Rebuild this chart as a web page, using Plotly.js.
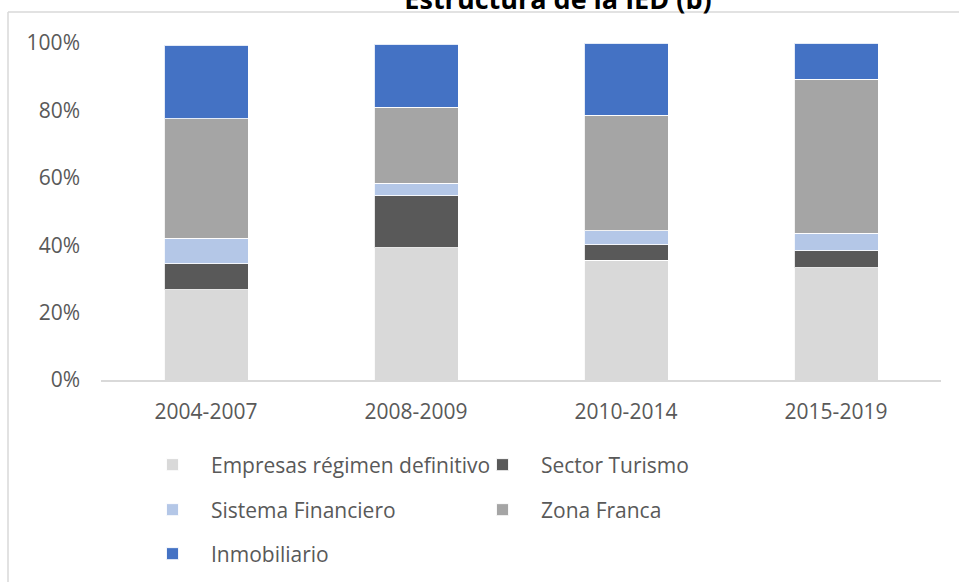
<!DOCTYPE html>
<html>
<head>
<meta charset="utf-8">
<script src="https://cdn.plot.ly/plotly-3.0.1.min.js"></script>
<style>html,body{margin:0;padding:0;background:#fff;}#chart{width:959px;height:582px;}</style>
</head>
<body>
<div id="chart"></div>
<script>
const categories = ['2004-2007', '2008-2009', '2010-2014', '2015-2019'];
const empresas = [0.268, 0.393, 0.356, 0.333];
const turismo = [0.077, 0.154, 0.046, 0.050];
const sistema = [0.075, 0.037, 0.041, 0.052];
const zonaFranca = [0.355, 0.225, 0.343, 0.458];
const inmobiliario = [0.218, 0.187, 0.214, 0.107];
const yTicks = [0, 0.2, 0.4, 0.6, 0.8, 1.0];
const yTickText = ['0%', '20%', '40%', '60%', '80%', '100%'];

const font = 'Open Sans, Noto Sans, sans-serif';
const txt = '#595959';
const line = {color: 'rgba(255,255,255,0.85)', width: 1};

function bar(name, y, color, legend) {
  return {type: 'bar', name: name, x: categories, y: y,
    marker: {color: color, line: line}, legend: legend, hoverinfo: 'skip'};
}

const data = [
  bar('Empresas régimen definitivo', empresas, '#d9d9d9', 'legend'),
  bar('Sector Turismo', turismo, '#595959', 'legend'),
  bar('Sistema Financiero', sistema, '#b4c7e7', 'legend2'),
  bar('Zona Franca', zonaFranca, '#a5a5a5', 'legend2'),
  bar('Inmobiliario', inmobiliario, '#4472c4', 'legend3')
];

function leg(y) {
  return {orientation: 'h', xref: 'container', yref: 'container',
    x: 134/959, y: y, xanchor: 'left', yanchor: 'middle',
    itemwidth: 67,
    entrywidth: 248, entrywidthmode: 'pixels', traceorder: 'normal',
    font: {family: font, size: 21, color: txt}, bgcolor: 'rgba(0,0,0,0)'};
}

const layout = {
  width: 959, height: 582,
  margin: {l: 101, r: 18, t: 43, b: 202},
  paper_bgcolor: '#fff', plot_bgcolor: '#fff',
  barmode: 'stack', bargap: 0.6,
  showlegend: true,
  title: {text: '<b>Estructura de la IED (b)</b>', x: 558/959, xanchor: 'center',
    y: 1, yref: 'container', yanchor: 'middle',
    font: {family: font, size: 27, color: '#000'}},
  xaxis: {type: 'category', showgrid: false, zeroline: false, showline: true,
    linecolor: '#d9d9d9', linewidth: 1.5, ticks: '', ticklabelstandoff: 12,
    tickfont: {family: font, size: 21, color: txt}},
  yaxis: {range: [0, 1], tickvals: yTicks, ticktext: yTickText, showgrid: false,
    zeroline: false, showline: false, ticks: '', ticklabelstandoff: 20,
    tickfont: {family: font, size: 21, color: txt}},
  legend: leg(1 - 465/582),
  legend2: leg(1 - 510/582),
  legend3: leg(1 - 554/582),
  shapes: [
    {type: 'line', xref: 'paper', yref: 'paper', x0: (8-101)/840, x1: (975-101)/840,
      y0: (380-12)/337, y1: (380-12)/337, line: {color: '#d9d9d9', width: 1.5}},
    {type: 'line', xref: 'paper', yref: 'paper', x0: (8-101)/840, x1: (8-101)/840,
      y0: (380-12)/337, y1: (380-600)/337, line: {color: '#d9d9d9', width: 1.5}}
  ]
};

Plotly.newPlot('chart', data, layout, {displayModeBar: false, staticPlot: true});
</script>
</body>
</html>
